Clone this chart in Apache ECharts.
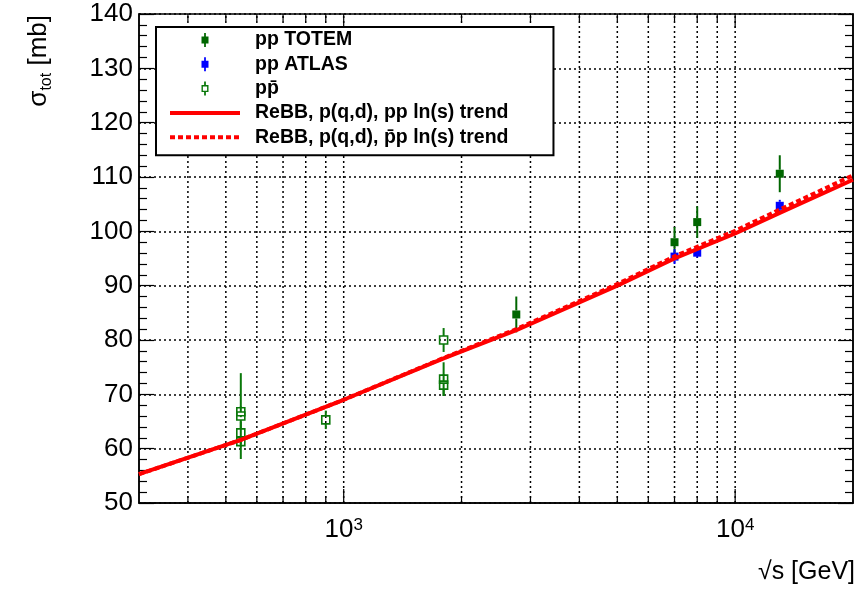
<!DOCTYPE html>
<html>
<head>
<meta charset="utf-8">
<script src="https://cdn.jsdelivr.net/npm/echarts@6/dist/echarts.min.js"></script>
<style>
  html, body { margin: 0; padding: 0; background: #fff; }
  #chart { width: 858px; height: 589px; }
</style>
</head>
<body>
<div id="chart"></div>
<script>
// sqrt(s) in GeV, total cross-section and its uncertainty in mb
const totemEnergy = [2760, 7000, 8000, 13000];
const totemSigma  = [84.7, 98.0, 101.7, 110.6];
const totemError  = [3.3, 2.8, 2.9, 3.4];

const atlasEnergy = [7000, 8000, 13000];
const atlasSigma  = [95.35, 96.07, 104.7];
const atlasError  = [1.36, 0.92, 1.1];

const ppbarEnergy = [546, 546, 546, 546, 900, 1800, 1800, 1800];
const ppbarSigma  = [66.8, 66.0, 62.9, 61.3, 65.3, 80.0, 72.8, 71.7];
const ppbarError  = [1.0, 7.9, 2.1, 0.9, 1.7, 2.2, 3.1, 2.0];

// ReBB model curves with ln(s) extrapolation of the parameters
const trendEnergy = [300, 546, 1000, 1800, 2760, 5000, 7000, 10000, 13000, 20000];
const ppTrend     = [55.3, 61.6, 69.0, 76.6, 81.8, 90.0, 95.0, 99.6, 103.4, 109.5];
const ppbarTrend  = [55.3, 61.6, 69.0, 76.7, 82.0, 90.3, 95.4, 100.1, 104.0, 110.3];

// axis ranges and grid positions
const xRange = [300, 20000];
const yRange = [50, 140];
const yStep = 10;
const xGridTicks = [400, 500, 600, 700, 800, 900, 1000, 2000, 3000, 4000, 5000, 6000, 7000, 8000, 9000, 10000];
const xDecadeTicks = [1000, 10000];

const names = {
  totem: 'pp TOTEM',
  atlas: 'pp ATLAS',
  ppbar: 'pp\u0304',
  ppLine: 'ReBB, p(q,d), pp ln(s) trend',
  ppbarLine: 'ReBB, p(q,d), p\u0304p ln(s) trend'
};

const GREEN = '#006600';
const GREEN_OPEN = '#0a780a';
const BLUE = '#0000ff';
const RED = '#ff0000';
const FONT = '"Liberation Sans", Arial, Helvetica, sans-serif';

// legend icons: marker with its error bar, and solid / dashed line swatches
const filledIcon = 'path://M3,0 L5,0 L5,4 L8,4 L8,12 L5,12 L5,16 L3,16 L3,12 L0,12 L0,4 L3,4 Z';
const openIcon = 'path://M3,0 L5,0 L5,4 L8,4 L8,12 L5,12 L5,16 L3,16 L3,12 L0,12 L0,4 L3,4 Z M1.6,5.6 L1.6,10.4 L6.4,10.4 L6.4,5.6 Z';
const solidLineIcon = 'path://M0,0 L70,0 L70,4 L0,4 Z';
function dashedLineIcon(total, dash, gap) {
  let d = 'path://';
  for (let x = 0; x < total; x += dash + gap) {
    const x2 = Math.min(x + dash, total);
    d += 'M' + x + ',0 L' + x2 + ',0 L' + x2 + ',4 L' + x + ',4 Z ';
  }
  // invisible anchor keeps the swatch width at the full legend item width
  d += 'M' + total + ',0 L' + total + ',0.01 Z';
  return d;
}

function pointSeries(name, xs, ys, es, color, filled) {
  return {
    type: 'custom',
    name: name,
    coordinateSystem: 'cartesian2d',
    z: 3,
    itemStyle: { color: color },
    data: xs.map((x, i) => [x, ys[i], es[i]]),
    encode: { x: 0, y: 1 },
    renderItem: function (params, api) {
      const x = api.value(0), y = api.value(1), e = api.value(2);
      const c = api.coord([x, y]);
      const top = api.coord([x, y + e]);
      const bot = api.coord([x, y - e]);
      const h = 4;
      const children = [];
      if (top[1] < c[1] - h) {
        children.push({ type: 'line', shape: { x1: c[0], y1: top[1], x2: c[0], y2: c[1] - h },
          style: { stroke: color, lineWidth: 2 } });
      }
      if (bot[1] > c[1] + h) {
        children.push({ type: 'line', shape: { x1: c[0], y1: c[1] + h, x2: c[0], y2: bot[1] },
          style: { stroke: color, lineWidth: 2 } });
      }
      children.push({
        type: 'rect',
        shape: { x: c[0] - h, y: c[1] - h, width: 2 * h, height: 2 * h },
        style: filled ? { fill: color } : { fill: 'none', stroke: color, lineWidth: 1.6 }
      });
      return { type: 'group', children: children };
    }
  };
}

// dotted vertical grid plus the log ticks on the bottom and top frame
const xGridSeries = {
  type: 'custom',
  name: 'xgrid',
  coordinateSystem: 'cartesian2d',
  z: 1,
  silent: true,
  data: xGridTicks.map(v => [v]),
  encode: { x: 0 },
  renderItem: function (params, api) {
    const v = api.value(0);
    const b = api.coord([v, yRange[0]]);
    const t = api.coord([v, yRange[1]]);
    const len = xDecadeTicks.indexOf(v) >= 0 ? 14 : 7;
    return {
      type: 'group',
      children: [
        { type: 'line', shape: { x1: b[0], y1: b[1], x2: t[0], y2: t[1] },
          style: { stroke: '#000', lineWidth: 1.5, lineDash: [2, 3] } },
        { type: 'line', shape: { x1: b[0], y1: b[1], x2: b[0], y2: b[1] - len },
          style: { stroke: '#000', lineWidth: 1.2 } },
        { type: 'line', shape: { x1: t[0], y1: t[1], x2: t[0], y2: t[1] + len },
          style: { stroke: '#000', lineWidth: 1.2 } }
      ]
    };
  }
};

function isDecade(v) {
  const l = Math.log10(v);
  return Math.abs(l - Math.round(l)) < 1e-6;
}

const yAxisCommon = {
  type: 'value',
  min: yRange[0],
  max: yRange[1],
  interval: yStep,
  axisLine: { show: true, lineStyle: { color: '#000', width: 1.5 } },
  axisTick: { show: true, inside: true, length: 15, lineStyle: { color: '#000', width: 1.2 } },
  minorTick: { show: true, splitNumber: 5, length: 8, lineStyle: { color: '#000', width: 1.2 } }
};

const chart = echarts.init(document.getElementById('chart'), null, { renderer: 'canvas' });

chart.setOption({
  animation: false,
  backgroundColor: '#fff',
  grid: {
    left: 139, right: 5, top: 14, bottom: 86,
    containLabel: false,
    outerBoundsMode: 'none',
    show: true, borderColor: '#000', borderWidth: 1.5, backgroundColor: 'transparent'
  },
  legend: {
    left: 156, top: 27,
    orient: 'vertical',
    backgroundColor: '#fff',
    borderColor: '#000',
    borderWidth: 2,
    borderRadius: 0,
    padding: [3, 45, 8, 14],
    itemWidth: 70,
    itemHeight: 14,
    itemGap: 4.3,
    selectedMode: false,
    textStyle: { fontFamily: FONT, fontSize: 19.5, fontWeight: 'bold', color: '#000', padding: [0, 0, 0, 10] },
    data: [
      { name: names.totem, icon: filledIcon },
      { name: names.atlas, icon: filledIcon },
      { name: names.ppbar, icon: openIcon },
      { name: names.ppLine, icon: solidLineIcon },
      { name: names.ppbarLine, icon: dashedLineIcon(70, 5, 3) }
    ]
  },
  xAxis: {
    type: 'log',
    logBase: 10,
    min: xRange[0],
    max: xRange[1],
    name: '\u221As [GeV]',
    nameLocation: 'end',
    nameGap: 2,
    nameMoveOverlap: false,
    nameTextStyle: { fontFamily: FONT, fontSize: 25, color: '#000', align: 'right', verticalAlign: 'top', padding: [57, 0, 0, 0] },
    axisLine: { show: true, lineStyle: { color: '#000', width: 1.5 } },
    axisTick: { show: false },
    splitLine: { show: false },
    axisLabel: {
      margin: 14,
      showMinLabel: false,
      showMaxLabel: false,
      fontFamily: FONT,
      fontSize: 26,
      color: '#000',
      formatter: function (v) {
        if (!isDecade(v)) return '';
        return '10{sup|' + Math.round(Math.log10(v)) + '}';
      },
      rich: { sup: { fontFamily: FONT, fontSize: 17, verticalAlign: 'top', color: '#000' } }
    }
  },
  yAxis: [
    Object.assign({}, yAxisCommon, {
      position: 'left',
      name: '\u03c3{sub|tot} [mb]',
      nameLocation: 'end',
      nameGap: -1,
      nameRotate: 90,
      nameMoveOverlap: false,
      nameTextStyle: {
        fontFamily: FONT, fontSize: 26, color: '#000', align: 'right', verticalAlign: 'bottom',
        lineHeight: 32, padding: [0, 0, 84, 0],
        rich: { sub: { fontFamily: FONT, fontSize: 16, verticalAlign: 'bottom', color: '#000', lineHeight: 32 } }
      },
      axisLabel: { margin: 6, fontFamily: FONT, fontSize: 26, color: '#000' },
      splitLine: { show: true, lineStyle: { color: '#000', width: 1.5, type: [2, 3] } }
    }),
    Object.assign({}, yAxisCommon, {
      position: 'right',
      axisLabel: { show: false },
      splitLine: { show: false }
    })
  ],
  series: [
    xGridSeries,
    pointSeries(names.ppbar, ppbarEnergy, ppbarSigma, ppbarError, GREEN_OPEN, false),
    pointSeries(names.totem, totemEnergy, totemSigma, totemError, GREEN, true),
    pointSeries(names.atlas, atlasEnergy, atlasSigma, atlasError, BLUE, true),
    {
      type: 'line',
      name: names.ppLine,
      z: 4,
      symbol: 'none',
      showSymbol: false,
      data: trendEnergy.map((x, i) => [x, ppTrend[i]]),
      lineStyle: { color: RED, width: 4 },
      itemStyle: { color: RED }
    },
    {
      type: 'line',
      name: names.ppbarLine,
      z: 5,
      symbol: 'none',
      showSymbol: false,
      data: trendEnergy.map((x, i) => [x, ppbarTrend[i]]),
      lineStyle: { color: RED, width: 4, type: [5, 3] },
      itemStyle: { color: RED }
    }
  ]
});
</script>
</body>
</html>
